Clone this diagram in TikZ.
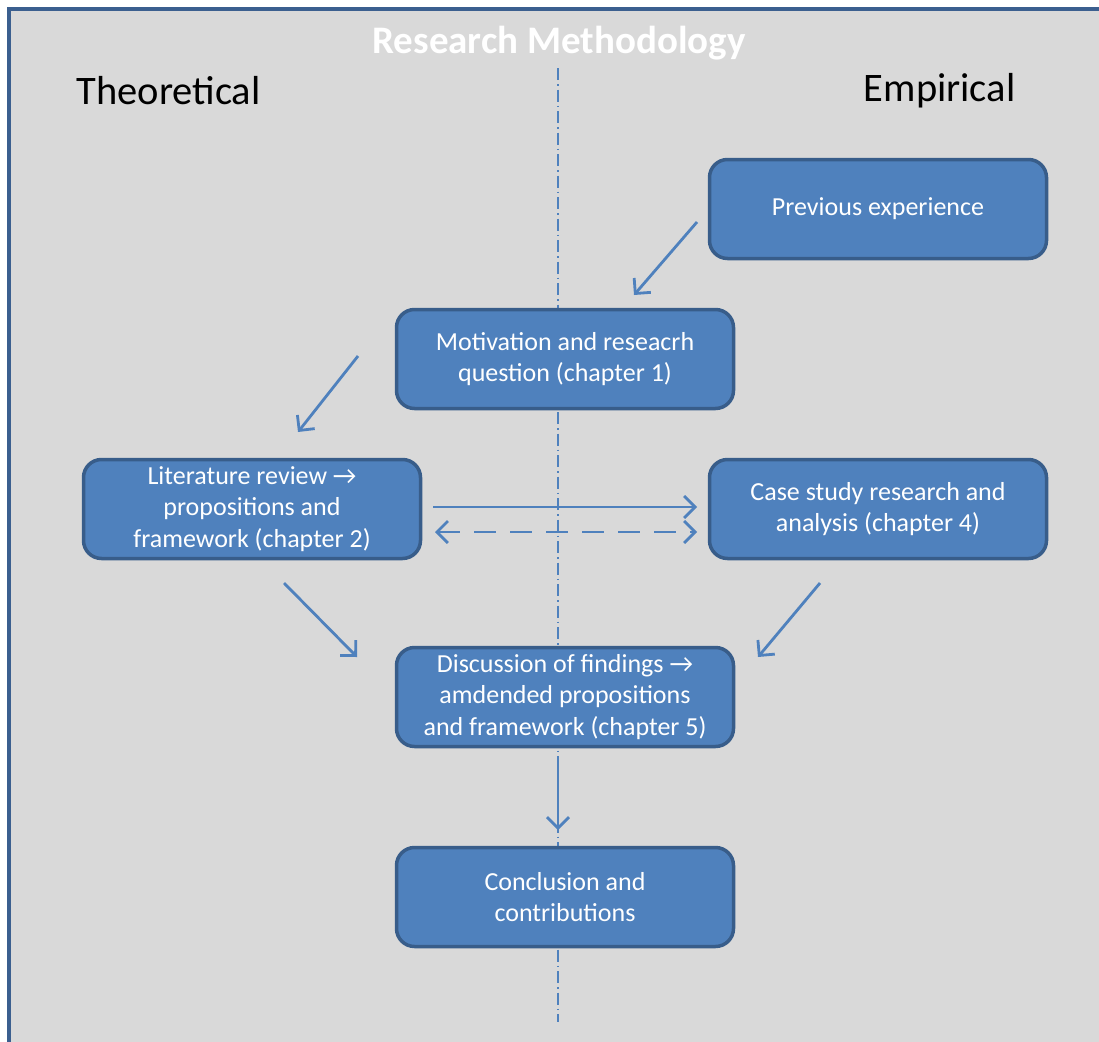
\documentclass[tikz,border=0pt]{standalone}
\usepackage{fontspec}
\setmainfont{Carlito}
\usetikzlibrary{arrows.meta}
\definecolor{bg}{HTML}{D9D9D9}
\definecolor{boxfill}{HTML}{4F81BD}
\definecolor{boxline}{HTML}{385D8A}
\definecolor{framec}{HTML}{3B5F8F}
\begin{document}
\begin{tikzpicture}[x=1pt,y=-1pt,
  stepbox/.style={draw=boxline,line width=3.5pt,fill=boxfill,rounded corners=18pt,
    minimum width=337pt,minimum height=99pt,text=white,align=center,
    font=\fontsize{26}{31.5}\selectfont,inner sep=0pt},
  tip/.style={-{Straight Barb[length=11pt,width=22pt,line width=2.8pt]}},
  conn/.style={draw=boxfill,line width=2.8pt,tip},
]
\useasboundingbox (0,0) rectangle (1099,1041);
\fill[white] (-5,-5) rectangle (1110,1050);
\fill[bg] (9,9) rectangle (1110,1050);
\draw[framec,line width=4pt] (9,1050) -- (9,9) -- (1110,9);
\node[font=\fontsize{39}{44}\selectfont\bfseries,text=white] (title) at (559,43) {Research Methodology};
\draw[boxfill,line width=1.4pt,dash pattern=on 12pt off 4pt on 1.5pt off 4pt] (558,68) -- (558,1022);
\node[font=\fontsize{40.5}{44}\selectfont,anchor=west] (theo) at (73,91) {Theoretical};
\node[font=\fontsize{40.5}{44}\selectfont,anchor=east] (emp) at (1019,91) {Empirical};
\node[stepbox] (prev) at (878,209) {Previous experience};
\node[stepbox] (moti) at (565,359) {Motivation and reseacrh\\question (chapter 1)};
\node[stepbox] (lit) at (252,509) {Literature review →\\propositions and\\framework (chapter 2)};
\node[stepbox] (case) at (878,509) {Case study research and\\analysis (chapter 4)};
\node[stepbox] (disc) at (565,697) {Discussion of findings →\\amdended propositions\\and framework (chapter 5)};
\node[stepbox] (conc) at (565,897) {Conclusion and\\contributions};
\coordinate (a1s) at (697,222); \coordinate (a1e) at (634,295);
\coordinate (a2s) at (358,356); \coordinate (a2e) at (298,432);
\coordinate (a3s) at (284,583); \coordinate (a3e) at (357,657);
\coordinate (a4s) at (820,583); \coordinate (a4e) at (758,657);
\coordinate (a5s) at (558,757); \coordinate (a5e) at (558,830);
\coordinate (h1s) at (433,507); \coordinate (h1e) at (697,507);
\coordinate (h2s) at (435,532); \coordinate (h2e) at (697,532);
\draw[conn] (a1s) -- (a1e);
\draw[conn] (a2s) -- (a2e);
\draw[conn] (a3s) -- (a3e);
\draw[conn] (a4s) -- (a4e);
\draw[conn] (a5s) -- (a5e);
\draw[conn] (h1s) -- (h1e);
\draw[draw=boxfill,line width=2.8pt,{Straight Barb[length=11pt,width=22pt,line width=2.8pt]}-{Straight Barb[length=11pt,width=22pt,line width=2.8pt]},dash pattern=on 22pt off 14pt] (h2s) -- (h2e);
\end{tikzpicture}
\end{document}
